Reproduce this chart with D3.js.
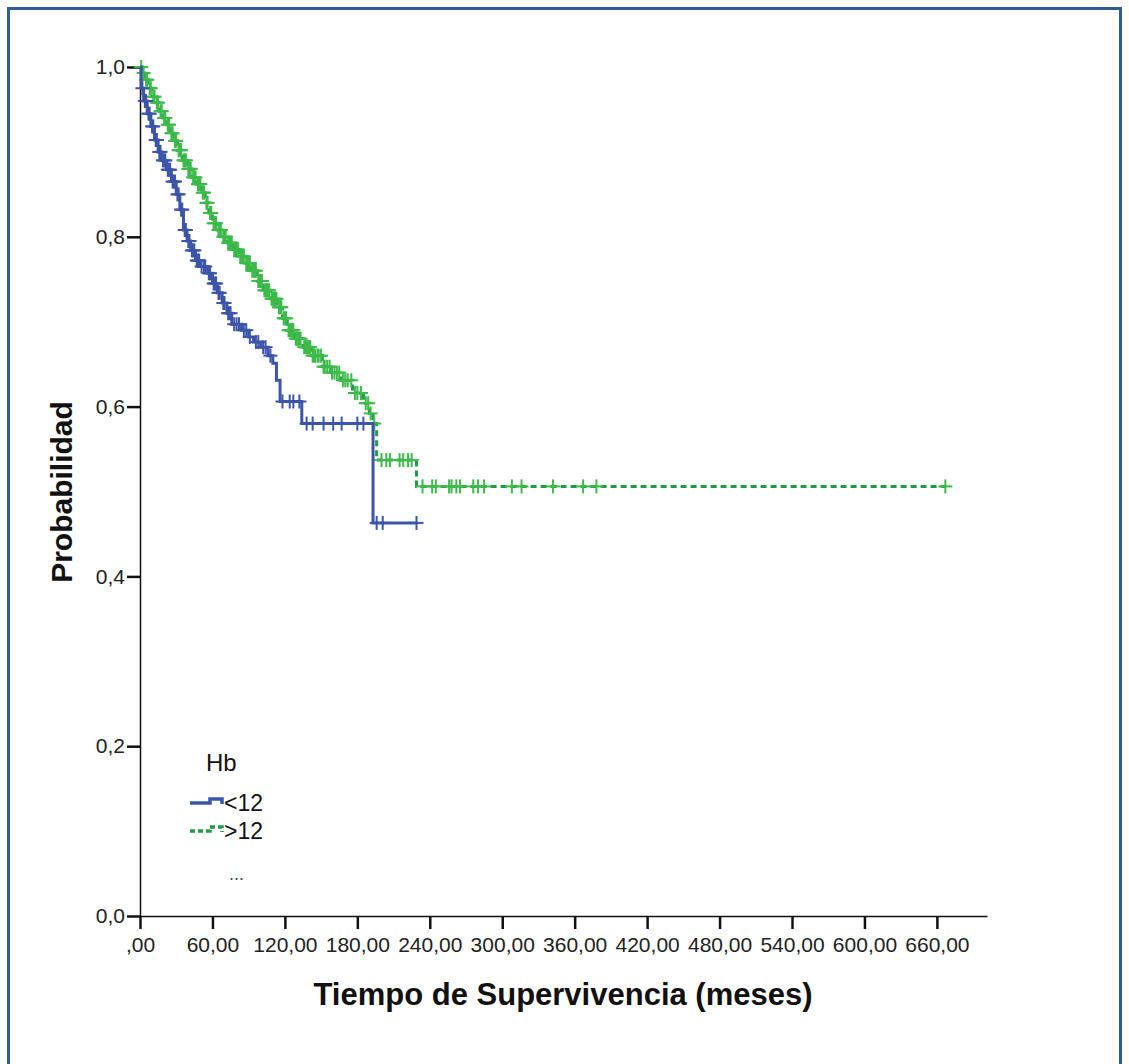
<!DOCTYPE html>
<html>
<head>
<meta charset="utf-8">
<script src="https://cdn.jsdelivr.net/npm/d3@7"></script>
<style>
  body { margin: 0; background: #fff; }
  text { font-family: "Liberation Sans", Arial, sans-serif; }
</style>
</head>
<body>
<svg id="chart" width="1129" height="1064"></svg>
<script>
// Kaplan-Meier, Hb < 12 (step times in months, survival after the step)
const lowTimes = [0, 1, 3, 6, 9, 12, 15, 18, 22, 26, 30, 33, 36, 39, 42, 46, 50, 56, 60, 64, 68, 72, 76, 84, 90, 94, 100, 106, 110, 113, 116, 134, 193];
const lowSurv  = [1.0, 0.975, 0.96, 0.945, 0.93, 0.914, 0.90, 0.89, 0.879, 0.865, 0.85, 0.832, 0.808, 0.795, 0.784, 0.772, 0.765, 0.757, 0.745, 0.734, 0.722, 0.710, 0.697, 0.690, 0.682, 0.676, 0.670, 0.660, 0.651, 0.631, 0.606, 0.580, 0.463];
const lowEnd = 230;
const lowCensor = [2, 4, 5, 7, 8, 10, 11, 13, 14, 16, 17, 19, 20, 21, 23, 24, 25, 27, 28, 29, 31, 32, 34, 35, 37, 38, 40, 41, 43, 44, 45, 47, 48, 49, 51, 53, 54, 57, 58, 61, 62, 63, 65, 66, 69, 70, 73, 74, 75, 78, 80, 82, 86, 88, 91, 96, 98, 102, 104, 108, 118, 124, 127, 132, 138, 143, 152, 160, 167, 180, 185, 196, 201, 229];

// Kaplan-Meier, Hb > 12
const highTimes = [0, 2, 4, 7, 10, 13, 16, 19, 22, 25, 28, 31, 35, 39, 43, 47, 51, 54, 57, 60, 64, 68, 72, 77, 82, 87, 92, 97, 102, 108, 114, 118, 122, 128, 135, 142, 151, 158, 166, 176, 185, 190, 193, 196, 229];
const highSurv  = [1.0, 0.993, 0.985, 0.975, 0.965, 0.958, 0.948, 0.94, 0.932, 0.922, 0.913, 0.902, 0.89, 0.88, 0.870, 0.862, 0.852, 0.84, 0.828, 0.816, 0.808, 0.80, 0.793, 0.785, 0.777, 0.769, 0.760, 0.748, 0.737, 0.727, 0.717, 0.704, 0.690, 0.680, 0.670, 0.660, 0.647, 0.640, 0.631, 0.616, 0.604, 0.592, 0.580, 0.537, 0.506];
const highEnd = 667;
const highCensor = [1, 3, 5, 6, 8, 9, 11, 12, 14, 15, 17, 18, 20, 21, 23, 24, 26, 27, 29, 30, 32, 33, 34, 36, 37, 38, 40, 41, 42, 44, 45, 46, 48, 49, 50, 52, 53, 55, 56, 58, 59, 61, 62, 63, 65, 66, 67, 69, 70, 71, 73, 74, 75, 76, 78, 79, 80, 81, 83, 84, 85, 86, 88, 89, 90, 91, 93, 94, 95, 96, 98, 99, 100, 101, 103, 104, 105, 106, 107, 109, 110, 111, 112, 113, 115, 116, 117, 119, 120, 121, 123, 124, 125, 126, 127, 129, 130, 131, 132, 133, 136, 137, 138, 139, 140, 141, 143, 144, 145, 147, 148, 150, 152, 153, 155, 157, 159, 161, 163, 165, 168, 170, 172, 175, 178, 180, 183, 187, 189, 191, 194, 200, 204, 207, 215, 218, 222, 225, 234, 242, 245, 256, 258, 262, 265, 276, 280, 285, 308, 316, 342, 367, 378, 667];

const xTicks = [0, 60, 120, 180, 240, 300, 360, 420, 480, 540, 600, 660];
const yTicks = [0, 0.2, 0.4, 0.6, 0.8, 1.0];
const legendLabels = ["<12", ">12"];

const svg = d3.select("#chart");

// frame
svg.append("rect")
  .attr("x", 8.5).attr("y", 8.5)
  .attr("width", 1112).attr("height", 1100)
  .attr("fill", "none")
  .attr("stroke", "#2c5d94")
  .attr("stroke-width", 3);

let x = d3.scaleLinear().domain([0, 701.5]).range([140, 987]);
let y = d3.scaleLinear().domain([0, 1]).range([916, 67]);

let fmt = v => v === 0 ? ",00" : d3.format(".2f")(v).replace(".", ",");

let xAxis = svg.append("g")
  .attr("transform", "translate(0,916)")
  .call(d3.axisBottom(x).tickValues(xTicks).tickSize(13).tickSizeOuter(0).tickPadding(8).tickFormat(fmt));
xAxis.select(".domain").attr("stroke", "#111").attr("stroke-width", 1.5);
xAxis.selectAll(".tick line").attr("stroke", "#111").attr("stroke-width", 2.5);
xAxis.selectAll("text").style("font-size", "21px").attr("fill", "#222");

let yAxis = svg.append("g")
  .attr("transform", "translate(140,0)")
  .call(d3.axisLeft(y).tickValues(yTicks).tickSize(13).tickSizeOuter(0).tickPadding(2)
    .tickFormat(v => d3.format(".1f")(v).replace(".", ",")));
yAxis.select(".domain").attr("stroke", "#111").attr("stroke-width", 1.5);
yAxis.selectAll(".tick line").attr("stroke", "#111").attr("stroke-width", 2.5);
yAxis.selectAll("text").style("font-size", "21px").attr("fill", "#222");

// axis titles
svg.append("text")
  .attr("x", 563).attr("y", 1005)
  .attr("text-anchor", "middle")
  .style("font-size", "31px").style("font-weight", "bold")
  .attr("fill", "#111")
  .text("Tiempo de Supervivencia (meses)");

svg.append("text")
  .attr("transform", "translate(72,492) rotate(-90)")
  .attr("text-anchor", "middle")
  .style("font-size", "30px").style("font-weight", "bold")
  .attr("fill", "#111")
  .text("Probabilidad");

function stepPoints(times, surv, end) {
  let pts = times.map((t, i) => [t, surv[i]]);
  pts.push([end, surv[surv.length - 1]]);
  return pts;
}

function survAt(times, surv, t) {
  let i = d3.bisectRight(times, t) - 1;
  return surv[Math.max(i, 0)];
}

let line = d3.line()
  .x(d => x(d[0]))
  .y(d => y(d[1]))
  .curve(d3.curveStepAfter);

function drawCensor(times, surv, censor, color) {
  let g = svg.append("g");
  censor.forEach(t => {
    let cx = x(t), cy = y(survAt(times, surv, t));
    g.append("line").attr("x1", cx).attr("x2", cx).attr("y1", cy - 7).attr("y2", cy + 7)
      .attr("stroke", color).attr("stroke-width", 2);
    g.append("line").attr("x1", cx - 7).attr("x2", cx + 7).attr("y1", cy).attr("y2", cy)
      .attr("stroke", color).attr("stroke-width", 2);
  });
}

const blue = "#3d55a8";
const greenLine = "#1f9a45";
const greenMark = "#3dba4a";

// Hb > 12 (dashed)
svg.append("path")
  .attr("d", line(stepPoints(highTimes, highSurv, highEnd)))
  .attr("fill", "none")
  .attr("stroke", greenLine)
  .attr("stroke-width", 3)
  .attr("stroke-dasharray", "6,4");
drawCensor(highTimes, highSurv, highCensor, greenMark);

// Hb < 12 (solid)
svg.append("path")
  .attr("d", line(stepPoints(lowTimes, lowSurv, lowEnd)))
  .attr("fill", "none")
  .attr("stroke", blue)
  .attr("stroke-width", 3);
drawCensor(lowTimes, lowSurv, lowCensor, blue);

// legend
let legend = svg.append("g");
legend.append("text").attr("x", 206).attr("y", 771)
  .style("font-size", "24px").attr("fill", "#111").text("Hb");

let sym = d3.line();
legend.append("path")
  .attr("d", sym([[190, 803], [210, 803], [210, 799], [222, 799], [222, 804]]))
  .attr("fill", "none").attr("stroke", blue).attr("stroke-width", 3.5);
legend.append("path")
  .attr("d", sym([[190, 831], [210, 831], [210, 827], [222, 827], [222, 832]]))
  .attr("fill", "none").attr("stroke", greenLine).attr("stroke-width", 3.5)
  .attr("stroke-dasharray", "5,3");

legendLabels.forEach((lab, i) => {
  legend.append("text").attr("x", 224).attr("y", 811 + i * 28)
    .style("font-size", "23px").attr("fill", "#111").text(lab);
});
legend.append("text").attr("x", 229).attr("y", 880)
  .style("font-size", "18px").attr("fill", "#444").text("...");
</script>
</body>
</html>
